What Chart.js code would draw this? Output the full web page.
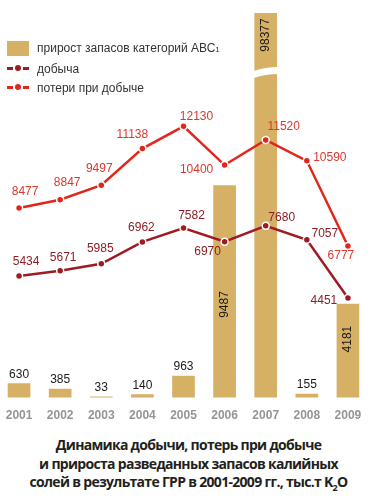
<!DOCTYPE html>
<html>
<head>
<meta charset="utf-8">
<script src="https://cdn.jsdelivr.net/npm/chart.js@4.4.0/dist/chart.umd.min.js"></script>
<style>
  body { margin: 0; background: #fff; width: 377px; height: 500px; overflow: hidden; position: relative; }
  #wrap { position: absolute; left: -7px; top: 0; width: 381px; height: 430px; }
  #legend { position: absolute; left: 7px; top: 37px; font: 12px "Liberation Sans", Arial, sans-serif; color: #333; }
  #legend .row { display: flex; align-items: center; height: 19px; }
  #legend .box { width: 22px; height: 15px; background: #D5B065; margin-right: 8px; }
  #legend .mk { position: relative; width: 22px; height: 15px; margin-right: 8px; }
  #legend .mk i { position: absolute; top: 6px; height: 3px; width: 6px; }
  #legend .mk b { position: absolute; top: 4px; left: 8px; width: 6px; height: 6px; border-radius: 50%; }
  #title { position: absolute; left: 0; top: 436px; width: 377px; text-align: center;
           font: 700 14px "Open Sans", sans-serif; line-height: 18.5px; color: #231f20; letter-spacing: -0.7px; }
</style>
</head>
<body>
<div id="wrap"><canvas id="chart"></canvas></div>
<div id="legend">
  <div class="row" style="height:22px"><div class="box"></div>прирост запасов категорий АВС<span style="font-size:8px;position:relative;top:1px">1</span></div>
  <div class="row"><div class="mk"><i style="left:0;background:#9E1B22"></i><b style="background:#9E1B22"></b><i style="left:16px;background:#9E1B22"></i></div>добыча</div>
  <div class="row"><div class="mk"><i style="left:0;background:#E2261C"></i><b style="background:#E2261C"></b><i style="left:16px;background:#E2261C"></i></div>потери при добыче</div>
</div>
<div id="title">Динамика добычи, потерь при добыче<br>и прироста разведанных запасов калийных<br>солей в результате ГРР в 2001-2009 гг., тыс.т K<sub style="font-size:9px;line-height:0">2</sub>O</div>

<script>
// Данные графика
const years = ['2001', '2002', '2003', '2004', '2005', '2006', '2007', '2008', '2009'];
const reserveGrowth = [630, 385, 33, 140, 963, 9487, 98377, 155, 4181];
const production = [5434, 5671, 5985, 6962, 7582, 6970, 7680, 7057, 4451];
const losses = [8477, 8847, 9497, 11138, 12130, 10400, 11520, 10590, 6777];

// Смещения подписей (dx, dy) относительно точки / вершины столбца
const productionLabelOffset = [[7, -14], [3, -13], [-1, -15], [-1, -14], [8, -12], [-17, 10], [16, -8], [18, -6], [-24, 3]];
const lossesLabelOffset = [[6, -16], [7, -17], [-2, -17], [-10, -14], [13, -10], [-28, 5], [18, -13], [23, -3], [-7, 10]];
const barLabelDy = [-9, -9, -9, -9, -9, 119, 22, -9, 35];

const Y_MAX = 17200;
const BAR_COLOR = '#D5B065';
const PROD_COLOR = '#9E1B22';
const LOSS_COLOR = '#E2261C';

const valueLabels = {
    id: 'valueLabels',
    afterDatasetsDraw(chart) {
        const ctx = chart.ctx;
        const area = chart.chartArea;
        const barMeta = chart.getDatasetMeta(0);

        // Разрыв высокого столбца
        barMeta.data.forEach((bar, i) => {
            if (reserveGrowth[i] <= Y_MAX) return;
            const half = bar.width / 2 + 1;
            ctx.save();
            ctx.fillStyle = '#fff';
            ctx.beginPath();
            ctx.moveTo(bar.x - half, area.top + 58);
            ctx.quadraticCurveTo(bar.x, area.top + 54, bar.x + half, area.top + 54);
            ctx.lineTo(bar.x + half, area.top + 61);
            ctx.quadraticCurveTo(bar.x, area.top + 61, bar.x - half, area.top + 65);
            ctx.closePath();
            ctx.fill();
            ctx.restore();
        });

        ctx.save();
        ctx.font = '12px "Liberation Sans", Arial, sans-serif';
        ctx.textAlign = 'center';
        ctx.textBaseline = 'middle';

        // Подписи столбцов
        barMeta.data.forEach((bar, i) => {
            const top = Math.max(bar.y, area.top);
            ctx.fillStyle = '#1a1a1a';
            if (reserveGrowth[i] > 1000) {
                ctx.save();
                ctx.translate(bar.x, top + barLabelDy[i]);
                ctx.rotate(-Math.PI / 2);
                ctx.fillText(reserveGrowth[i], 0, 0);
                ctx.restore();
            } else {
                ctx.fillText(reserveGrowth[i], bar.x, top + barLabelDy[i]);
            }
        });

        // Подписи линий
        chart.getDatasetMeta(1).data.forEach((pt, i) => {
            ctx.fillStyle = '#8E1E25';
            ctx.fillText(production[i], pt.x + productionLabelOffset[i][0], pt.y + productionLabelOffset[i][1]);
        });
        chart.getDatasetMeta(2).data.forEach((pt, i) => {
            ctx.fillStyle = '#D9382E';
            ctx.fillText(losses[i], pt.x + lossesLabelOffset[i][0], pt.y + lossesLabelOffset[i][1]);
        });
        ctx.restore();
    }
};

document.addEventListener('DOMContentLoaded', function() {
    const ctx = document.getElementById('chart').getContext('2d');

    new Chart(ctx, {
        type: 'bar',
        data: {
            labels: years,
            datasets: [
                {
                    label: 'прирост запасов категорий АВС1',
                    data: reserveGrowth,
                    backgroundColor: BAR_COLOR,
                    barThickness: 22,
                    order: 3
                },
                {
                    type: 'line',
                    label: 'добыча',
                    data: production,
                    borderColor: PROD_COLOR,
                    backgroundColor: PROD_COLOR,
                    borderWidth: 2.5,
                    pointRadius: 3.5,
                    pointBackgroundColor: PROD_COLOR,
                    pointBorderColor: '#fff',
                    pointBorderWidth: 1.5,
                    tension: 0,
                    order: 1
                },
                {
                    type: 'line',
                    label: 'потери при добыче',
                    data: losses,
                    borderColor: LOSS_COLOR,
                    backgroundColor: LOSS_COLOR,
                    borderWidth: 2.5,
                    pointRadius: 3.5,
                    pointBackgroundColor: LOSS_COLOR,
                    pointBorderColor: '#fff',
                    pointBorderWidth: 1.5,
                    tension: 0,
                    order: 2
                }
            ]
        },
        options: {
            responsive: true,
            maintainAspectRatio: false,
            animation: false,
            layout: {
                padding: { top: 13, left: 0, right: 0, bottom: 4 }
            },
            plugins: {
                legend: { display: false },
                tooltip: { enabled: false }
            },
            scales: {
                x: {
                    grid: { display: false },
                    border: { display: false },
                    ticks: {
                        color: '#959595',
                        padding: 3,
                        font: { family: '"Liberation Sans", Arial, sans-serif', size: 12, weight: 'bold' }
                    }
                },
                y: {
                    display: false,
                    min: 0,
                    max: Y_MAX
                }
            }
        },
        plugins: [valueLabels]
    });
});
</script>
</body>
</html>
